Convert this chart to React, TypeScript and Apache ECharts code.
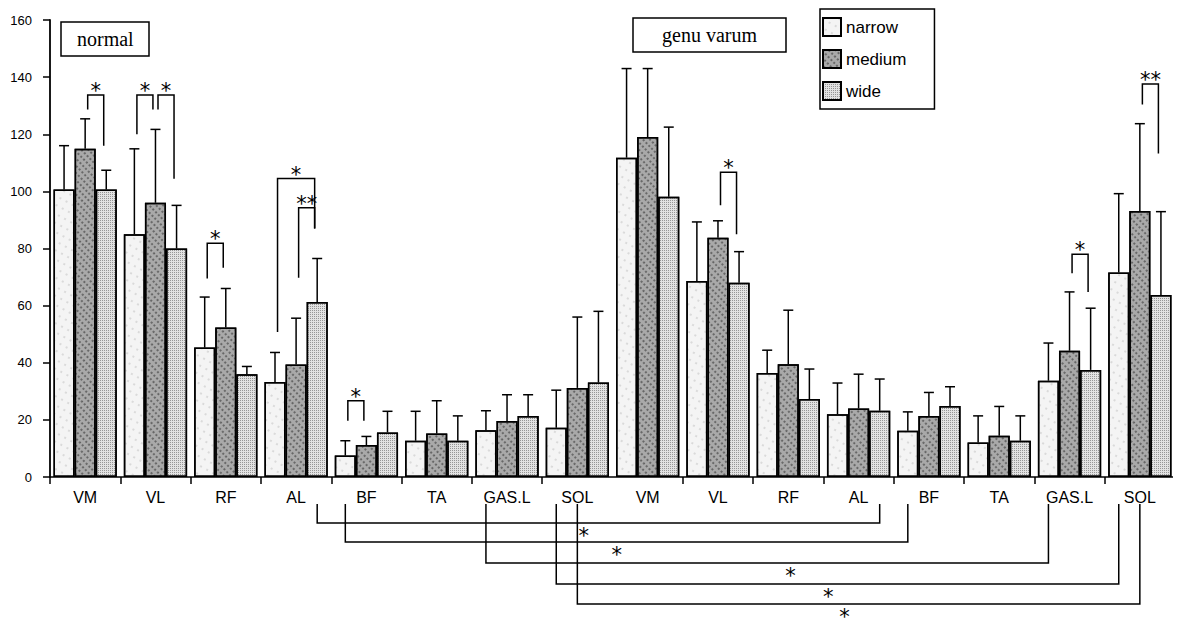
import React, { useEffect, useRef } from "react";
import * as echarts from "echarts";

const categories = ["VM", "VL", "RF", "AL", "BF", "TA", "GAS.L", "SOL", "VM", "VL", "RF", "AL", "BF", "TA", "GAS.L", "SOL"];
const seriesNames = ["narrow", "medium", "wide"];

// first 8 = normal, last 8 = genu varum
const narrowMean = [100.7, 85, 45.3, 33.3, 7.5, 12.7, 16.4, 17.2, 111.8, 68.6, 36.4, 22, 16.2, 12.1, 33.7, 71.6];
const mediumMean = [114.9, 96, 52.3, 39.4, 11.2, 15.2, 19.6, 31.2, 119, 83.8, 39.5, 24, 21.4, 14.4, 44.2, 93.1];
const wideMean = [100.7, 80, 36, 61.3, 15.6, 12.7, 21.4, 33.1, 98.1, 68, 27.3, 23.2, 24.9, 12.7, 37.5, 63.7];

const narrowSD = [15.3, 29.9, 17.7, 10.3, 5.2, 10.3, 6.8, 13.2, 31.2, 20.7, 8, 10.9, 6.6, 9.3, 13.2, 27.6];
const mediumSD = [10.5, 25.7, 13.7, 16.2, 3, 11.5, 9.2, 24.8, 24, 5.9, 18.9, 12, 8.2, 10.3, 20.6, 30.6];
const wideSD = [6.7, 15.1, 2.7, 15.2, 7.4, 8.7, 7.4, 24.9, 24.4, 10.9, 10.5, 11.1, 6.7, 8.7, 21.6, 29.2];

const yTicks = [0, 20, 40, 60, 80, 100, 120, 140, 160];

// within-muscle significance brackets: [category, leftBar, rightBar, top, leftLegBottom, rightLegBottom]
const brackets = [
  [0, 1, 2, 133.7, 128.7, 116],
  [1, 0, 1, 133.7, 120, 128.7],
  [1, 1, 2, 133.7, 128.7, 104.4],
  [2, 0, 1, 81.8, 69.5, 73.3],
  [3, 0, 2, 104.5, 50.8, 87],
  [3, 1, 2, 94.3, 69.8, 87],
  [4, 0, 1, 26.7, 19.7, 19.7],
  [9, 1, 2, 106.7, 95.1, 85],
  [14, 1, 2, 78, 71.3, 64.8],
  [15, 1, 2, 137.6, 130.4, 113.3],
];
const bracketLabels = ["*", "*", "*", "*", "*", "**", "*", "*", "*", "**"];

// normal vs genu varum connectors: [leftCategory, leftBar, rightCategory, rightBar, starPosition(in category units)]
const connectors = [
  [3, 2, 11, 2, 7.59],
  [4, 0, 12, 0, 8.06],
  [6, 0, 14, 0, 10.53],
  [7, 0, 15, 0, 11.07],
  [7, 1, 15, 1, 11.3],
];
const connectorLabels = ["*", "*", "*", "*", "*"];

const groupTitles = ["normal", "genu varum"];

export default function App() {
  const ref = useRef<HTMLDivElement>(null);

  useEffect(() => {
    if (!ref.current) return;
    const chart = echarts.init(ref.current, null, { renderer: "svg" });

    const BAR_FRAC = 0.3; // each bar = 30% of category width (10% category gap, 3 bars)
    const lineStyle = { stroke: "#000", lineWidth: 1.5, fill: "none" };

    const barX = (api: any, cat: number, k: number) => {
      const cw = api.size([1, 0])[0];
      return api.coord([cat, 0])[0] + (k - 1) * cw * BAR_FRAC;
    };

    const errData: number[][] = [];
    const means = [narrowMean, mediumMean, wideMean];
    const sds = [narrowSD, mediumSD, wideSD];
    for (let k = 0; k < 3; k++) {
      for (let i = 0; i < categories.length; i++) {
        errData.push([i, k, means[k][i], sds[k][i]]);
      }
    }

    const decals = [
      { symbol: "circle", symbolSize: 0.6, dashArrayX: [2, 5], dashArrayY: [2, 6], rotation: 0.5, color: "rgba(70,70,70,0.45)" },
      { symbol: "circle", symbolSize: 0.9, dashArrayX: [2, 2], dashArrayY: [2, 3], rotation: 0.8, color: "rgba(20,20,20,0.6)" },
      { symbol: "rect", symbolSize: 1, dashArrayX: [1, 1], dashArrayY: [1, 1], rotation: 0, color: "rgba(100,100,100,0.6)" },
    ];
    const fills = ["#f4f4f4", "#a9a9a9", "#e2e2e2"];

    const barSeries = seriesNames.map((name, k) => ({
      name,
      type: "bar",
      data: means[k],
      barGap: "0%",
      barCategoryGap: "10%",
      itemStyle: { color: fills[k], borderColor: "#000", borderWidth: 1.5, decal: decals[k] },
      z: 2,
    }));

    const starFont = "21px 'DejaVu Sans'";

    const option: any = {
      animation: false,
      backgroundColor: "#fff",
      title: [
        {
          text: groupTitles[0],
          left: 61,
          top: 22,
          padding: [7, 16, 7, 16],
          borderColor: "#000",
          borderWidth: 1.5,
          textStyle: { fontFamily: "Liberation Serif", fontWeight: "normal", fontSize: 20, color: "#000" },
        },
        {
          text: groupTitles[1],
          left: 633,
          top: 18,
          padding: [7, 29, 7, 29],
          borderColor: "#000",
          borderWidth: 1.5,
          textStyle: { fontFamily: "Liberation Serif", fontWeight: "normal", fontSize: 20, color: "#000" },
        },
      ],
      legend: {
        data: seriesNames,
        orient: "vertical",
        left: 820,
        top: 9,
        padding: [8, 28, 8, 2],
        itemGap: 12,
        itemWidth: 18,
        itemHeight: 18,
        borderColor: "#000",
        borderWidth: 1.5,
        icon: "rect",
        textStyle: { fontFamily: "Liberation Sans", fontSize: 17, color: "#000" },
      },
      grid: { left: 50, right: 6, top: 20, bottom: 152, containLabel: false },
      xAxis: {
        type: "category",
        data: categories,
        axisLine: { lineStyle: { color: "#000", width: 1.5 } },
        axisTick: {
          show: true,
          length: 7,
          lineStyle: { color: "#000", width: 1.5 },
          interval: (index: number) => index !== 8,
        },
        axisLabel: { interval: 0, margin: 12, fontFamily: "Liberation Sans", fontSize: 16, color: "#000" },
      },
      yAxis: {
        type: "value",
        min: yTicks[0],
        max: yTicks[yTicks.length - 1],
        interval: 20,
        axisLine: { show: true, lineStyle: { color: "#000", width: 1.8 } },
        axisTick: { show: true, length: 7, lineStyle: { color: "#000", width: 1.5 } },
        splitLine: { show: false },
        axisLabel: { margin: 18, fontFamily: "Liberation Sans", fontSize: 13, color: "#000" },
      },
      series: [
        ...barSeries,
        {
          type: "custom",
          name: "sd",
          data: errData,
          encode: { x: 0, y: 2 },
          clip: false,
          z: 3,
          renderItem: (params: any, api: any) => {
            const cat = api.value(0);
            const k = api.value(1);
            const m = api.value(2);
            const sd = api.value(3);
            const x = barX(api, cat, k);
            const y0 = api.coord([cat, m])[1];
            const y1 = api.coord([cat, m + sd])[1];
            return {
              type: "group",
              children: [
                { type: "line", shape: { x1: x, y1: y0, x2: x, y2: y1 }, style: lineStyle },
                { type: "line", shape: { x1: x - 5, y1: y1, x2: x + 5, y2: y1 }, style: lineStyle },
              ],
            };
          },
        },
        {
          type: "custom",
          name: "brackets",
          data: brackets,
          encode: { x: 0, y: 3 },
          clip: false,
          z: 3,
          renderItem: (params: any, api: any) => {
            const cat = api.value(0);
            const lb = api.value(1);
            const rb = api.value(2);
            const cw = api.size([1, 0])[0];
            const off = cw * BAR_FRAC * 0.12;
            const xl = barX(api, cat, lb) + off;
            const xr = barX(api, cat, rb) - off;
            const yt = api.coord([cat, api.value(3)])[1];
            const yl = api.coord([cat, api.value(4)])[1];
            const yr = api.coord([cat, api.value(5)])[1];
            return {
              type: "group",
              children: [
                {
                  type: "polyline",
                  shape: { points: [[xl, yl], [xl, yt], [xr, yt], [xr, yr]] },
                  style: lineStyle,
                },
                {
                  type: "text",
                  style: {
                    text: bracketLabels[params.dataIndex],
                    x: (xl + xr) / 2,
                    y: yt - 4,
                    align: "center",
                    verticalAlign: "middle",
                    font: starFont,
                    fill: "#000",
                  },
                },
              ],
            };
          },
        },
        {
          type: "custom",
          name: "connectors",
          data: connectors,
          encode: { x: 0 },
          clip: false,
          z: 3,
          renderItem: (params: any, api: any) => {
            const rowOffsets = [46, 65, 86, 107, 127];
            const i = params.dataIndex;
            const base = api.coord([0, 0])[1];
            const cw = api.size([1, 0])[0];
            const x0 = api.coord([0, 0])[0] - cw / 2;
            const xl = barX(api, api.value(0), api.value(1));
            const xr = barX(api, api.value(2), api.value(3));
            const yTop = base + 27;
            const y = base + rowOffsets[i];
            const sx = x0 + api.value(4) * cw;
            return {
              type: "group",
              children: [
                {
                  type: "polyline",
                  shape: { points: [[xl, yTop], [xl, y], [xr, y], [xr, yTop]] },
                  style: lineStyle,
                },
                {
                  type: "text",
                  style: {
                    text: connectorLabels[i],
                    x: sx,
                    y: y + 13,
                    align: "center",
                    verticalAlign: "middle",
                    font: starFont,
                    fill: "#000",
                  },
                },
              ],
            };
          },
        },
      ],
    };

    chart.setOption(option);
    return () => chart.dispose();
  }, []);

  return <div ref={ref} style={{ width: 1181, height: 629, margin: -8 }} />;
}
